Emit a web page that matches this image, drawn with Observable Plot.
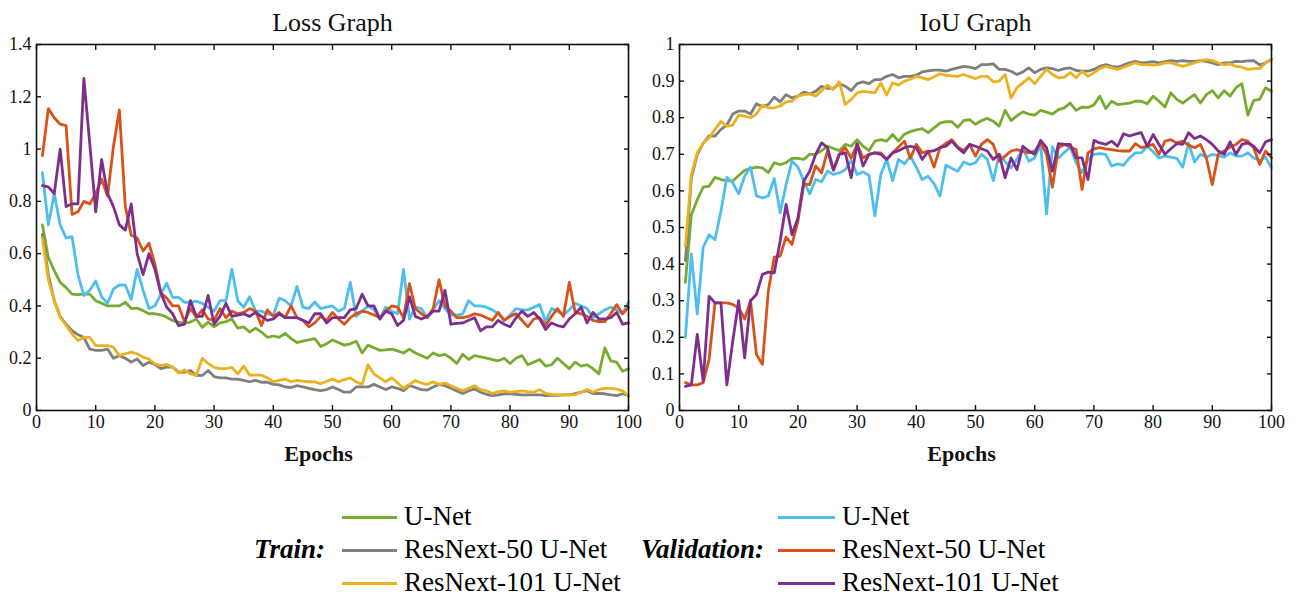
<!DOCTYPE html>
<html><head><meta charset="utf-8">
<script src="https://cdn.jsdelivr.net/npm/d3@7"></script>
<script src="https://cdn.jsdelivr.net/npm/@observablehq/plot@0.6"></script>
<style>
body{margin:0;background:#fff;font-family:"Liberation Serif","Times New Roman",serif;}
#wrap{position:relative;width:1304px;height:601px;overflow:hidden;}
.plot{position:absolute;top:0;}
.plot text{font-family:"Liberation Serif","Times New Roman",serif !important;}
.leg{position:absolute;font-size:27px;color:#000;white-space:nowrap;line-height:27px;}
.hdr{font-weight:bold;font-style:italic;}
.sw{position:absolute;height:3px;}
</style></head><body><div id="wrap"></div>
<script>
const epochs = d3.range(1, 101);
const xTicks = [0,10,20,30,40,50,60,70,80,90,100];
const lossTicks = [0,0.2,0.4,0.6,0.8,1,1.2,1.4];
const iouTicks = [0,0.1,0.2,0.3,0.4,0.5,0.6,0.7,0.8,0.9,1];
const modelNames = ["U-Net","ResNext-50 U-Net","ResNext-101 U-Net"];
const trainColors = ["#77AC30","#7F7F7F","#EDB120"];
const valColors = ["#4DBEEE","#D95319","#7E2F8E"];

// ---- Loss ----
const lossTrainUNet = [0.71,0.585,0.535,0.49,0.47,0.445,0.443,0.445,0.445,0.42,
0.41,0.40,0.40,0.40,0.414,0.39,0.392,0.382,0.37,0.37,
0.366,0.357,0.344,0.338,0.334,0.338,0.35,0.318,0.338,0.32,
0.335,0.34,0.35,0.315,0.32,0.30,0.315,0.30,0.28,0.285,
0.28,0.295,0.275,0.26,0.265,0.27,0.275,0.245,0.255,0.27,
0.26,0.25,0.255,0.265,0.22,0.25,0.24,0.23,0.232,0.235,
0.228,0.22,0.235,0.22,0.21,0.20,0.22,0.21,0.215,0.20,
0.18,0.215,0.195,0.21,0.205,0.20,0.195,0.19,0.20,0.18,
0.20,0.21,0.175,0.185,0.195,0.17,0.175,0.20,0.18,0.16,
0.185,0.17,0.175,0.16,0.14,0.24,0.19,0.185,0.15,0.16];
const lossTrainRX50 = [0.675,0.52,0.42,0.36,0.33,0.305,0.29,0.28,0.235,0.23,
0.23,0.235,0.20,0.21,0.20,0.185,0.197,0.172,0.185,0.176,
0.16,0.166,0.166,0.147,0.147,0.153,0.134,0.134,0.153,0.13,
0.125,0.125,0.12,0.12,0.115,0.11,0.115,0.108,0.108,0.10,
0.098,0.09,0.088,0.095,0.09,0.085,0.08,0.076,0.08,0.09,
0.08,0.07,0.07,0.09,0.09,0.09,0.10,0.09,0.08,0.09,
0.085,0.076,0.096,0.088,0.08,0.078,0.09,0.10,0.095,0.085,
0.075,0.065,0.075,0.083,0.07,0.062,0.057,0.06,0.064,0.064,
0.062,0.06,0.06,0.06,0.06,0.057,0.058,0.058,0.06,0.06,
0.065,0.07,0.076,0.065,0.065,0.064,0.06,0.057,0.064,0.057];
const lossTrainRX101 = [0.66,0.50,0.42,0.357,0.325,0.293,0.268,0.28,0.28,0.248,
0.248,0.248,0.242,0.21,0.217,0.223,0.217,0.204,0.197,0.178,
0.172,0.176,0.166,0.143,0.155,0.14,0.135,0.20,0.18,0.165,
0.16,0.16,0.165,0.14,0.17,0.135,0.135,0.135,0.125,0.11,
0.115,0.12,0.11,0.115,0.112,0.11,0.11,0.102,0.112,0.12,
0.11,0.118,0.125,0.11,0.10,0.175,0.14,0.125,0.11,0.125,
0.105,0.085,0.10,0.115,0.105,0.10,0.11,0.10,0.105,0.095,
0.085,0.075,0.085,0.095,0.08,0.075,0.065,0.072,0.075,0.07,
0.072,0.075,0.072,0.07,0.08,0.065,0.062,0.06,0.06,0.06,
0.06,0.07,0.08,0.07,0.08,0.085,0.085,0.082,0.075,0.055];
const lossValUNet = [0.91,0.71,0.83,0.71,0.66,0.665,0.52,0.44,0.46,0.495,
0.435,0.41,0.465,0.48,0.48,0.425,0.54,0.46,0.39,0.40,
0.445,0.487,0.433,0.433,0.414,0.414,0.418,0.41,0.395,0.38,
0.42,0.42,0.54,0.42,0.395,0.435,0.38,0.38,0.37,0.365,
0.43,0.42,0.40,0.475,0.395,0.39,0.415,0.39,0.395,0.40,
0.38,0.39,0.49,0.36,0.38,0.40,0.385,0.35,0.395,0.38,
0.37,0.54,0.35,0.395,0.39,0.355,0.385,0.42,0.39,0.365,
0.365,0.37,0.42,0.40,0.40,0.395,0.385,0.37,0.345,0.365,
0.39,0.385,0.385,0.395,0.405,0.34,0.39,0.38,0.365,0.385,
0.41,0.40,0.39,0.355,0.37,0.385,0.395,0.385,0.37,0.415];
const lossValRX50 = [0.975,1.155,1.12,1.095,1.09,0.75,0.76,0.80,0.79,0.83,
0.885,0.82,1.01,1.15,0.78,0.67,0.66,0.61,0.64,0.56,
0.45,0.43,0.40,0.40,0.34,0.39,0.357,0.385,0.35,0.345,
0.39,0.355,0.38,0.37,0.375,0.39,0.38,0.325,0.385,0.36,
0.375,0.355,0.40,0.355,0.345,0.32,0.335,0.36,0.345,0.375,
0.35,0.33,0.355,0.37,0.38,0.375,0.365,0.355,0.38,0.40,
0.395,0.355,0.485,0.39,0.37,0.355,0.39,0.50,0.40,0.38,
0.355,0.355,0.36,0.37,0.365,0.355,0.345,0.375,0.345,0.36,
0.37,0.345,0.32,0.35,0.355,0.325,0.36,0.39,0.36,0.49,
0.375,0.37,0.36,0.345,0.34,0.34,0.37,0.405,0.37,0.395];
const lossValRX101 = [0.86,0.855,0.83,1.00,0.78,0.79,0.79,1.27,1.02,0.76,
0.96,0.83,0.78,0.71,0.69,0.79,0.60,0.52,0.60,0.54,
0.45,0.395,0.37,0.325,0.33,0.42,0.36,0.36,0.44,0.33,
0.36,0.41,0.36,0.365,0.37,0.36,0.375,0.36,0.345,0.35,
0.37,0.355,0.355,0.355,0.345,0.335,0.37,0.37,0.335,0.355,
0.355,0.355,0.385,0.39,0.445,0.40,0.40,0.35,0.38,0.37,
0.325,0.345,0.435,0.36,0.35,0.36,0.38,0.38,0.46,0.33,
0.333,0.335,0.345,0.355,0.305,0.32,0.32,0.345,0.33,0.32,
0.355,0.38,0.36,0.375,0.35,0.31,0.335,0.325,0.32,0.35,
0.37,0.395,0.335,0.375,0.35,0.35,0.355,0.375,0.33,0.335];

// ---- IoU ----
const iouTrainUNet = [0.35,0.535,0.576,0.61,0.613,0.637,0.631,0.628,0.627,0.642,
0.656,0.661,0.665,0.663,0.65,0.677,0.672,0.677,0.689,0.689,
0.686,0.70,0.70,0.71,0.722,0.716,0.71,0.727,0.722,0.74,
0.722,0.71,0.736,0.74,0.736,0.754,0.736,0.755,0.762,0.767,
0.77,0.759,0.772,0.785,0.789,0.789,0.774,0.792,0.795,0.782,
0.792,0.798,0.79,0.777,0.82,0.792,0.805,0.816,0.81,0.807,
0.82,0.815,0.81,0.822,0.827,0.84,0.82,0.829,0.828,0.835,
0.859,0.825,0.845,0.836,0.838,0.84,0.845,0.845,0.838,0.859,
0.845,0.829,0.868,0.85,0.84,0.852,0.863,0.84,0.863,0.874,
0.854,0.874,0.859,0.882,0.893,0.807,0.847,0.85,0.882,0.872];
const iouTrainRX50 = [0.41,0.635,0.70,0.73,0.75,0.75,0.768,0.78,0.81,0.818,
0.818,0.81,0.838,0.83,0.836,0.856,0.843,0.863,0.854,0.859,
0.87,0.865,0.872,0.886,0.88,0.88,0.893,0.886,0.874,0.893,
0.898,0.893,0.904,0.904,0.913,0.918,0.909,0.913,0.913,0.916,
0.925,0.928,0.93,0.93,0.927,0.932,0.936,0.94,0.938,0.934,
0.945,0.945,0.947,0.932,0.932,0.927,0.918,0.925,0.936,0.923,
0.932,0.936,0.934,0.929,0.934,0.936,0.929,0.927,0.927,0.932,
0.94,0.945,0.94,0.938,0.944,0.95,0.954,0.95,0.951,0.953,
0.95,0.953,0.956,0.954,0.956,0.954,0.954,0.956,0.954,0.95,
0.945,0.95,0.95,0.954,0.953,0.955,0.956,0.944,0.95,0.959];
const iouTrainRX101 = [0.45,0.645,0.704,0.73,0.745,0.768,0.79,0.777,0.78,0.807,
0.804,0.80,0.81,0.834,0.827,0.827,0.832,0.843,0.845,0.859,
0.863,0.865,0.859,0.874,0.889,0.877,0.898,0.836,0.85,0.868,
0.872,0.87,0.868,0.895,0.862,0.895,0.889,0.90,0.905,0.913,
0.909,0.904,0.912,0.92,0.916,0.914,0.913,0.918,0.912,0.907,
0.913,0.913,0.898,0.90,0.918,0.854,0.882,0.895,0.909,0.893,
0.913,0.932,0.918,0.909,0.911,0.923,0.909,0.927,0.913,0.923,
0.934,0.94,0.936,0.932,0.938,0.944,0.95,0.945,0.945,0.944,
0.945,0.95,0.95,0.945,0.94,0.945,0.95,0.956,0.959,0.956,
0.95,0.944,0.947,0.94,0.938,0.932,0.934,0.934,0.95,0.959];
const iouValUNet = [0.20,0.428,0.264,0.446,0.48,0.467,0.545,0.637,0.622,0.592,
0.64,0.665,0.586,0.581,0.586,0.634,0.54,0.617,0.681,0.665,
0.627,0.592,0.631,0.625,0.654,0.645,0.649,0.658,0.683,0.645,
0.652,0.643,0.532,0.645,0.686,0.628,0.686,0.674,0.695,0.665,
0.631,0.64,0.62,0.586,0.67,0.662,0.654,0.679,0.672,0.677,
0.70,0.686,0.628,0.70,0.68,0.663,0.686,0.716,0.681,0.69,
0.727,0.537,0.72,0.69,0.705,0.72,0.677,0.65,0.685,0.70,
0.702,0.70,0.668,0.674,0.67,0.69,0.704,0.704,0.722,0.707,
0.69,0.695,0.692,0.689,0.665,0.731,0.679,0.70,0.692,0.70,
0.696,0.692,0.704,0.695,0.695,0.704,0.69,0.683,0.692,0.663];
const iouValRX50 = [0.076,0.07,0.07,0.076,0.14,0.294,0.294,0.294,0.29,0.28,
0.25,0.30,0.153,0.126,0.326,0.419,0.422,0.474,0.454,0.517,
0.619,0.617,0.668,0.649,0.71,0.656,0.70,0.718,0.69,0.727,
0.69,0.70,0.704,0.704,0.686,0.704,0.72,0.736,0.689,0.727,
0.704,0.709,0.665,0.718,0.73,0.74,0.72,0.71,0.727,0.695,
0.727,0.74,0.727,0.681,0.695,0.709,0.713,0.708,0.704,0.709,
0.731,0.70,0.61,0.718,0.727,0.72,0.713,0.604,0.704,0.715,
0.718,0.715,0.713,0.71,0.709,0.709,0.729,0.718,0.722,0.727,
0.70,0.736,0.74,0.731,0.736,0.725,0.718,0.727,0.69,0.617,
0.70,0.709,0.72,0.727,0.74,0.736,0.718,0.672,0.709,0.69];
const iouValRX101 = [0.066,0.07,0.208,0.08,0.312,0.294,0.294,0.07,0.19,0.30,
0.144,0.30,0.317,0.372,0.378,0.376,0.463,0.563,0.48,0.526,
0.627,0.654,0.70,0.731,0.718,0.658,0.70,0.704,0.636,0.729,
0.668,0.70,0.704,0.70,0.686,0.704,0.71,0.718,0.722,0.718,
0.686,0.707,0.71,0.718,0.722,0.736,0.718,0.704,0.727,0.722,
0.715,0.709,0.686,0.70,0.636,0.69,0.658,0.722,0.709,0.70,
0.738,0.718,0.654,0.729,0.727,0.727,0.69,0.69,0.631,0.738,
0.731,0.727,0.736,0.722,0.756,0.75,0.755,0.759,0.722,0.754,
0.727,0.70,0.715,0.729,0.727,0.759,0.743,0.75,0.74,0.727,
0.709,0.70,0.734,0.70,0.727,0.731,0.722,0.704,0.734,0.74];

const colors = [...trainColors, ...valColors];
const fmt = d => String(d);
const serif = "Liberation Serif";

function chart(title, yTicks, series) {
  const rows = [];
  series.forEach((arr, s) => arr.forEach((v, i) => rows.push({epoch: epochs[i], value: v, s})));
  const yMax = yTicks[yTicks.length - 1];
  return Plot.plot({
    width: 650, height: 480,
    marginLeft: 36, marginRight: 22, marginTop: 44, marginBottom: 70,
    style: {fontFamily: serif, fontSize: "18px", color: "#111", background: "transparent", overflow: "visible"},
    x: {domain: [0, 100]},
    y: {domain: [0, yMax]},
    marks: [
      ...series.map((arr, s) => Plot.line(rows.filter(d => d.s === s), {x: "epoch", y: "value", stroke: colors[s], strokeWidth: 2.8, strokeLinejoin: "round"})),
      Plot.frame({stroke: "#111", strokeWidth: 1.6}),
      Plot.axisX({ticks: xTicks, tickSize: -5, tickFormat: () => "", label: null, strokeWidth: 1.4}),
      Plot.axisX({anchor: "top", ticks: xTicks, tickSize: -5, tickFormat: () => "", label: null, strokeWidth: 1.4}),
      Plot.axisY({ticks: yTicks, tickSize: -5, tickFormat: () => "", label: null, strokeWidth: 1.4}),
      Plot.axisY({anchor: "right", ticks: yTicks, tickSize: -5, tickFormat: () => "", label: null, strokeWidth: 1.4}),
      Plot.axisX({ticks: xTicks, tickSize: 0, tickPadding: 5, tickFormat: fmt, label: null, fontSize: 18, fontFamily: serif}),
      Plot.axisY({ticks: yTicks, tickSize: 0, tickPadding: 5, tickFormat: fmt, label: null, fontSize: 18, fontFamily: serif}),
      Plot.text(["Epochs"], {frameAnchor: "bottom", dy: 50, dx: -14, fontWeight: "bold", fontSize: 22, fontFamily: serif}),
      Plot.text([title], {frameAnchor: "top", dy: -32, fontSize: 26, fontFamily: serif})
    ]
  });
}

const wrap = document.getElementById("wrap");
const p1 = chart("Loss Graph", lossTicks, [lossTrainUNet, lossTrainRX50, lossTrainRX101, lossValUNet, lossValRX50, lossValRX101]);
p1.classList.add("plot"); p1.style.left = "0px";
wrap.appendChild(p1);
const p2 = chart("IoU Graph", iouTicks, [iouTrainUNet, iouTrainRX50, iouTrainRX101, iouValUNet, iouValRX50, iouValRX101]);
p2.classList.add("plot"); p2.style.left = "643px";
wrap.appendChild(p2);

// legend
function addText(txt, left, cy, cls) {
  const d = document.createElement("div");
  d.className = "leg" + (cls ? " " + cls : "");
  d.textContent = txt;
  d.style.left = left + "px";
  d.style.top = (cy - 14) + "px";
  wrap.appendChild(d);
}
function addSwatch(color, left, width, cy) {
  const d = document.createElement("div");
  d.className = "sw";
  d.style.left = left + "px"; d.style.width = width + "px";
  d.style.top = (cy - 1.5) + "px"; d.style.background = color;
  wrap.appendChild(d);
}
const rowsY = [517, 550, 583];
addText("Train:", 254, 550, "hdr");
addText("Validation:", 641, 550, "hdr");
modelNames.forEach((name, i) => {
  addSwatch(trainColors[i], 342, 55, rowsY[i]);
  addText(name, 404, rowsY[i]);
  addSwatch(valColors[i], 778, 57, rowsY[i]);
  addText(name, 842, rowsY[i]);
});
</script></body></html>
